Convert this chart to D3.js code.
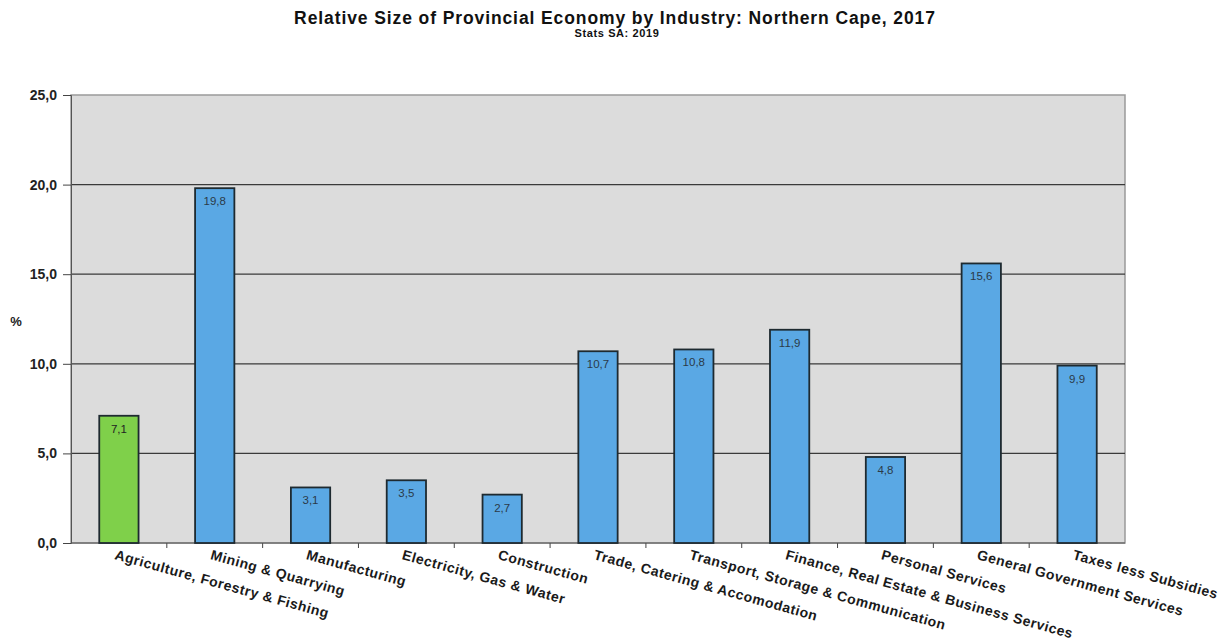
<!DOCTYPE html>
<html>
<head>
<meta charset="utf-8">
<script src="https://cdn.jsdelivr.net/npm/d3@7"></script>
<style>
  body { margin: 0; background: #fff; }
  text { font-family: "Liberation Sans", Arial, sans-serif; }
</style>
</head>
<body>
<div id="chart"></div>
<script>
const categories = [
  "Agriculture, Forestry & Fishing",
  "Mining & Quarrying",
  "Manufacturing",
  "Electricity, Gas & Water",
  "Construction",
  "Trade, Catering & Accomodation",
  "Transport, Storage & Communication",
  "Finance, Real Estate & Business Services",
  "Personal Services",
  "General Government Services",
  "Taxes less Subsidies"
];
const values = [7.1, 19.8, 3.1, 3.5, 2.7, 10.7, 10.8, 11.9, 4.8, 15.6, 9.9];
const yTicks = [0, 5, 10, 15, 20, 25];

const W = 1231, H = 640;
const margin = { top: 95, right: 106, bottom: 97, left: 71 };
const width = W - margin.left - margin.right;
const height = H - margin.top - margin.bottom;

const svg = d3.select("#chart").append("svg")
  .attr("width", W)
  .attr("height", H);

svg.append("text")
  .attr("x", 615).attr("y", 24)
  .attr("text-anchor", "middle")
  .style("font-size", "17.5px")
  .style("font-weight", "bold")
  .style("letter-spacing", "0.9px")
  .attr("fill", "#111")
  .text("Relative Size of Provincial Economy by Industry: Northern Cape, 2017");

svg.append("text")
  .attr("x", 617).attr("y", 37)
  .attr("text-anchor", "middle")
  .style("font-size", "11px")
  .style("font-weight", "bold")
  .style("letter-spacing", "0.6px")
  .attr("fill", "#111")
  .text("Stats SA: 2019");

const g = svg.append("g")
  .attr("transform", `translate(${margin.left},${margin.top})`);

const x = d3.scaleBand()
  .domain(categories)
  .range([0, width]);

const y = d3.scaleLinear()
  .domain([0, 25])
  .range([height, 0]);

// plot background
g.append("rect")
  .attr("width", width)
  .attr("height", height)
  .attr("fill", "#dcdcdc")
  .attr("stroke", "#9a9a9a")
  .attr("stroke-width", 1.5);

// gridlines
g.selectAll(".grid")
  .data(yTicks.filter(d => d > 0 && d < 25))
  .enter().append("line")
  .attr("x1", 0).attr("x2", width)
  .attr("y1", d => y(d)).attr("y2", d => y(d))
  .attr("stroke", "#3a3a3a")
  .attr("stroke-width", 1.2);

// y axis
const yAxis = g.append("g")
  .call(d3.axisLeft(y)
    .tickValues(yTicks)
    .tickSize(8)
    .tickPadding(6)
    .tickFormat(d => d3.format(".1f")(d).replace(".", ",")));
yAxis.select(".domain").attr("stroke", "#555");
yAxis.selectAll(".tick line").attr("stroke", "#444");
yAxis.selectAll(".tick text")
  .style("font-size", "14px")
  .style("font-weight", "bold")
  .attr("fill", "#222");

svg.append("text")
  .attr("x", 16).attr("y", 326)
  .attr("text-anchor", "middle")
  .style("font-size", "13px")
  .style("font-weight", "bold")
  .attr("fill", "#222")
  .text("%");

// x axis ticks at band boundaries
g.selectAll(".xtick")
  .data(categories.slice(1))
  .enter().append("line")
  .attr("x1", d => x(d)).attr("x2", d => x(d))
  .attr("y1", height).attr("y2", height + 5)
  .attr("stroke", "#444");

g.append("line")
  .attr("x1", 0).attr("x2", width)
  .attr("y1", height).attr("y2", height)
  .attr("stroke", "#555")
  .attr("stroke-width", 1.2);

// bars
const barW = x.bandwidth() * 0.41;
g.selectAll(".bar")
  .data(categories)
  .enter().append("rect")
  .attr("x", d => x(d) + x.bandwidth() / 2 - barW / 2)
  .attr("y", (d, i) => y(values[i]))
  .attr("width", barW)
  .attr("height", (d, i) => height - y(values[i]))
  .attr("fill", (d, i) => i === 0 ? "#7fd04a" : "#5aa8e4")
  .attr("stroke", "#1e2a30")
  .attr("stroke-width", 1.8);

// value labels
g.selectAll(".val")
  .data(categories)
  .enter().append("text")
  .attr("x", d => x(d) + x.bandwidth() / 2)
  .attr("y", (d, i) => y(values[i]) + 17)
  .attr("text-anchor", "middle")
  .style("font-size", "11.5px")
  .attr("fill", (d, i) => i === 0 ? "#222" : "#2b3a48")
  .text((d, i) => d3.format(".1f")(values[i]).replace(".", ","));

// category labels
g.selectAll(".cat")
  .data(categories)
  .enter().append("text")
  .attr("transform", d => `translate(${x(d) + x.bandwidth() / 2 - 5},${height + 16}) rotate(15.5)`)
  .attr("text-anchor", "start")
  .style("font-size", "14px")
  .style("font-weight", "bold")
  .style("letter-spacing", "0.5px")
  .attr("fill", "#1a1a1a")
  .text(d => d);
</script>
</body>
</html>
